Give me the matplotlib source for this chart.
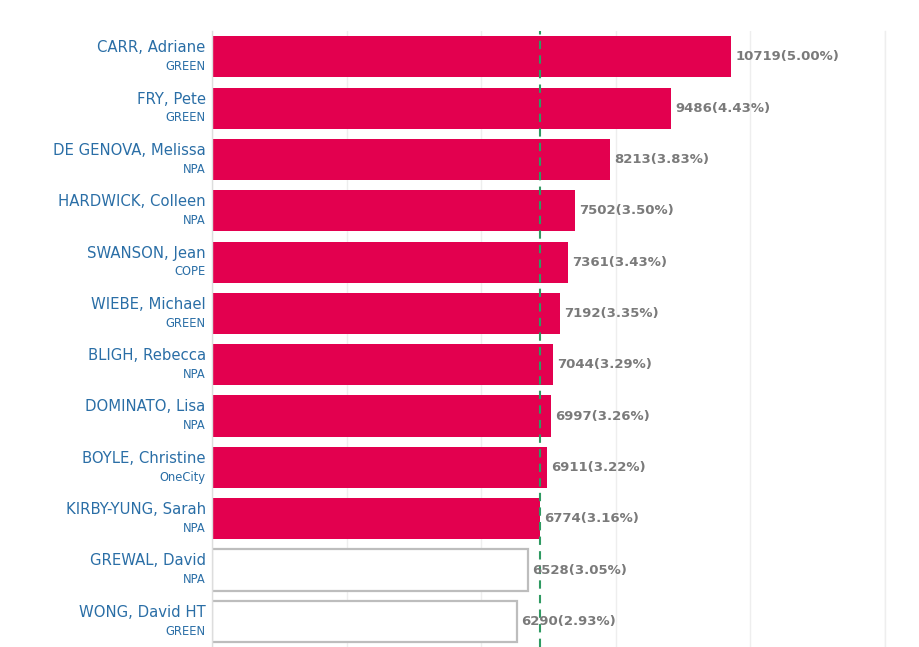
import matplotlib
matplotlib.use("Agg")
import matplotlib.pyplot as plt
import numpy as np

names = ["CARR, Adriane", "FRY, Pete", "DE GENOVA, Melissa", "HARDWICK, Colleen",
         "SWANSON, Jean", "WIEBE, Michael", "BLIGH, Rebecca", "DOMINATO, Lisa",
         "BOYLE, Christine", "KIRBY-YUNG, Sarah", "GREWAL, David", "WONG, David HT"]
parties = ["GREEN", "GREEN", "NPA", "NPA", "COPE", "GREEN", "NPA", "NPA",
           "OneCity", "NPA", "NPA", "GREEN"]
votes = [10719, 9486, 8213, 7502, 7361, 7192, 7044, 6997, 6911, 6774, 6528, 6290]
pcts = ["5.00%", "4.43%", "3.83%", "3.50%", "3.43%", "3.35%", "3.29%", "3.26%",
        "3.22%", "3.16%", "3.05%", "2.93%"]
elected = [True] * 10 + [False] * 2
threshold = 6774
xmax = 13900

plt.rcParams['font.family'] = ['DejaVu Sans']

fig = plt.figure(figsize=(9.2, 6.47), dpi=100)
ax = fig.add_axes([0.2304, 0.0, 0.962 - 0.2304, 0.952])

red = "#e3004f"
for i, (v, e) in enumerate(zip(votes, elected)):
    if e:
        ax.barh(i, v, height=0.8, color=red, edgecolor="none", zorder=2)
    else:
        ax.barh(i, v, height=0.8, color="white", edgecolor="#bdbdbd", linewidth=1.6, zorder=2)
    ax.annotate(f"{v}({pcts[i]})", xy=(v, i), xytext=(3, 0), textcoords="offset points",
                ha="left", va="center", fontsize=9.5, fontweight="bold", color="#7a7a7a", zorder=4)
    ax.annotate(names[i], xy=(0, i), xycoords=("axes fraction", "data"), xytext=(-4.5, 6.5),
                textcoords="offset points", ha="right", va="center", fontsize=10.7, color="#2a6ea6")
    ax.annotate(parties[i], xy=(0, i), xycoords=("axes fraction", "data"), xytext=(-4.5, -7),
                textcoords="offset points", ha="right", va="center", fontsize=8.3, color="#2a6ea6")

ax.axvline(threshold, color="#2f9a62", linestyle=(0, (4, 3)), linewidth=1.5, zorder=3)

ax.set_xlim(0, xmax)
ax.set_ylim(len(names) - 0.5, -0.5)
ax.set_xticks(np.linspace(0, xmax, 6))
ax.grid(axis="x", color="#eeeeee", linewidth=1, zorder=0)
ax.tick_params(left=False, bottom=False, labelleft=False, labelbottom=False)
for s in ["top", "bottom"]:
    ax.spines[s].set_visible(False)
ax.spines["right"].set_color("#eeeeee")
ax.spines["right"].set_linewidth(1)
ax.spines["left"].set_color("#dddddd")
ax.spines["left"].set_linewidth(1)

fig.savefig("out.png", dpi=100, facecolor="white")
